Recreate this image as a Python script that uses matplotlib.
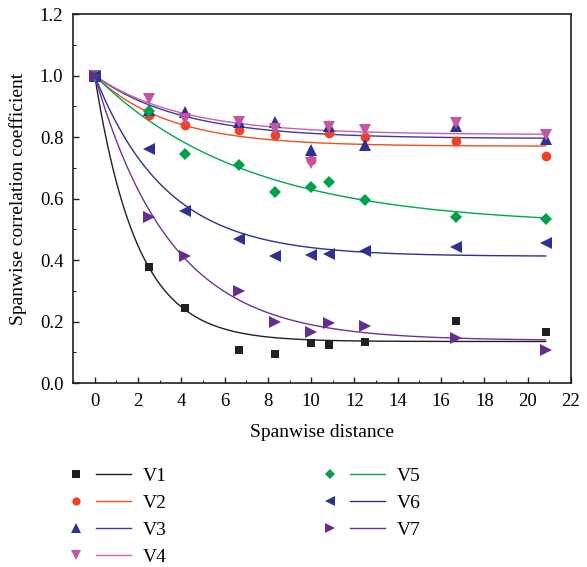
import numpy as np
import matplotlib
matplotlib.use("Agg")
import matplotlib.pyplot as plt
from matplotlib.lines import Line2D
from matplotlib.legend_handler import HandlerTuple
from matplotlib.ticker import MultipleLocator

plt.rcParams['font.family'] = ['Liberation Serif', 'DejaVu Serif']
plt.rcParams['mathtext.fontset'] = 'stix'

# ---- data ----
x = [0, 2.5, 4.17, 6.67, 8.33, 10.0, 10.83, 12.5, 16.67, 20.83]
series_names = ["V1", "V2", "V3", "V4", "V5", "V6", "V7"]
V1 = [1.0, 0.377, 0.245, 0.107, 0.094, 0.130, 0.125, 0.132, 0.203, 0.167]
V2 = [1.0, 0.870, 0.839, 0.822, 0.807, 0.726, 0.814, 0.800, 0.787, 0.738]
V3 = [1.0, 0.888, 0.881, 0.849, 0.849, 0.757, 0.835, 0.775, 0.835, 0.795]
V4 = [1.0, 0.922, 0.860, 0.848, 0.827, 0.717, 0.832, 0.822, 0.846, 0.805]
V5 = [1.0, 0.883, 0.745, 0.709, 0.622, 0.636, 0.653, 0.595, 0.539, 0.532]
V6 = [1.0, 0.762, 0.559, 0.468, 0.413, 0.416, 0.418, 0.429, 0.441, 0.454]
V7 = [1.0, 0.541, 0.413, 0.298, 0.200, 0.165, 0.196, 0.185, 0.145, 0.106]
values = [V1, V2, V3, V4, V5, V6, V7]
# exponential-decay fit parameters: y = c + (1-c)*exp(-x/L)
fit_asymptote = [0.135, 0.770, 0.795, 0.808, 0.512, 0.412, 0.138]
fit_length = [1.96, 3.4, 4.0, 4.0, 7.0, 3.3, 3.55]

marker_colors = ["#231f20", "#ef4123", "#2e3192", "#c455a6", "#00a14b", "#2e3192", "#662d91"]
line_colors = ["#231f20", "#f04e23", "#3a3d9a", "#cc5fae", "#00a650", "#2e3192", "#6d3597"]
markers = ["s", "o", "^", "v", "D", "<", ">"]
msizes = [6.0, 7.0, 8.5, 8.5, 6.0, 8.5, 8.5]

fig = plt.figure(figsize=(5.87, 5.67), dpi=100)
ax = fig.add_axes([0.1244, 0.3245, 0.8483, 0.6508])

xf = np.linspace(0, max(x), 300)
handles = []
for i, name in enumerate(series_names):
    c, L = fit_asymptote[i], fit_length[i]
    yf = c + (1 - c) * np.exp(-xf / L)
    ln, = ax.plot(xf, yf, color=line_colors[i], lw=1.0, zorder=2)
    mk, = ax.plot(x, values[i], linestyle='none', marker=markers[i], ms=msizes[i],
                  color=marker_colors[i], markeredgewidth=0, zorder=3)
    mh = Line2D([], [], linestyle='none', marker=markers[i], ms=msizes[i] * 0.85,
                color=marker_colors[i], markeredgewidth=0)
    lh = Line2D([], [], color=line_colors[i], lw=1.0)
    handles.append((mh, lh))

ax.set_xlim(-1, 22)
ax.set_ylim(0, 1.2)
ax.xaxis.set_major_locator(MultipleLocator(2))
ax.xaxis.set_minor_locator(MultipleLocator(1))
ax.yaxis.set_major_locator(MultipleLocator(0.2))
ax.yaxis.set_minor_locator(MultipleLocator(0.1))
ax.set_xticks(np.arange(0, 23, 2))
ax.yaxis.set_major_formatter(matplotlib.ticker.FormatStrFormatter('%.1f'))
ax.tick_params(which='both', direction='in', top=False, right=False, labelsize=13.5, color='#231f20')
ax.tick_params(which='major', length=4, width=1.0)
ax.tick_params(which='minor', length=2.5, width=0.8)
ax.tick_params(axis='x', pad=7)
ax.tick_params(axis='y', pad=7)
for s in ax.spines.values():
    s.set_linewidth(1.2)
    s.set_color('#231f20')

ax.set_xlabel("Spanwise distance", fontsize=14, labelpad=10)
ax.set_ylabel("Spanwise correlation coefficient", fontsize=14, labelpad=9)

fig.legend(handles, series_names, ncol=2, loc='upper left',
           bbox_to_anchor=(0.0997, 0.176), frameon=False, fontsize=14,
           handler_map={tuple: HandlerTuple(ndivide=None, pad=0.13)},
           handlelength=3.73, handletextpad=0.6, columnspacing=7.5,
           labelspacing=0.48, borderpad=0, borderaxespad=0)

fig.savefig("out.png", dpi=100)
